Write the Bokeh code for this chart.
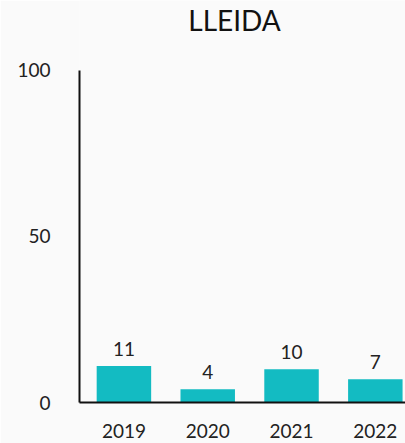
from bokeh.plotting import figure
from bokeh.models import Range1d, FixedTicker, ColumnDataSource, Label
from bokeh.core.properties import value
from bokeh.embed import file_html
from bokeh.resources import INLINE

title_text = "LLEIDA"
years = ["2019", "2020", "2021", "2022"]
counts = [11, 4, 10, 7]
y_ticks = [0, 50, 100]

FONT = "Lato"
BAR = "#13BBC2"
BG = "#FAFAFA"

xs = list(range(len(years)))
src = ColumnDataSource(dict(x=xs, top=counts, label=[str(c) for c in counts]))

# frame extends to the top of the figure; the axis line is bounded to 0..100
p = figure(width=405, height=443, output_backend="svg", toolbar_location=None,
           x_range=Range1d(-0.53, 3.36), y_range=Range1d(0, 121.08),
           min_border_left=79, min_border_right=0, min_border_top=0,
           min_border_bottom=41, background_fill_color=BG,
           border_fill_color=BG, outline_line_color=None)

title = Label(text=title_text, x=1.32, y=115.2,
              text_font=FONT, text_font_size="28px", text_color="#111111",
              text_align="center", text_baseline="alphabetic")
p.add_layout(title)

p.vbar(x="x", top="top", width=0.65, source=src, fill_color=BAR, line_color=None)
p.text(x="x", y="top", text="label", source=src, text_align="center",
       text_baseline="alphabetic", y_offset=-17, text_font=value(FONT),
       text_font_size="19px", text_color="#222222")

p.xgrid.visible = False
p.ygrid.visible = False

p.xaxis.ticker = FixedTicker(ticks=xs)
p.xaxis.major_label_overrides = {i: y for i, y in zip(xs, years)}
p.yaxis.ticker = FixedTicker(ticks=y_ticks)
p.yaxis.bounds = (0, 100)

for ax in (p.xaxis[0], p.yaxis[0]):
    ax.axis_line_color = "#111111"
    ax.axis_line_width = 2
    ax.major_tick_line_color = None
    ax.minor_tick_line_color = None
    ax.major_label_text_font = FONT
    ax.major_label_text_font_size = "19px"
    ax.major_label_text_color = "#222222"

p.yaxis.major_label_standoff = 23
p.xaxis.major_label_standoff = 15

open("out.html", "w").write(file_html(p, INLINE))
